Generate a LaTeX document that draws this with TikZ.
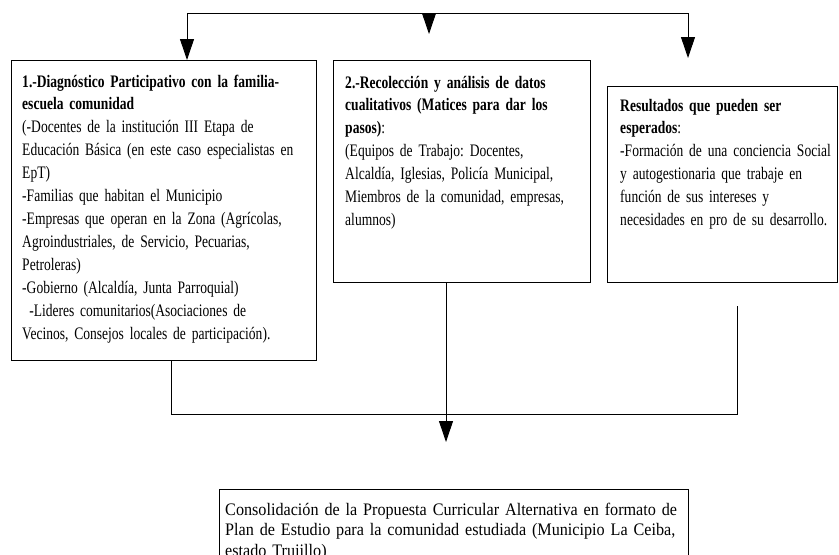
\documentclass[tikz,border=0pt]{standalone}
\usepackage{fontspec}
\setmainfont{Liberation Serif}
\newfontfamily\cajafont{Liberation Serif}[FakeStretch=0.77]
\newfontfamily\finalfont{Liberation Serif}[FakeStretch=0.92]
\usetikzlibrary{arrows.meta}
\frenchspacing

\tikzset{
  caja/.style={draw, line width=1pt, anchor=north west, inner sep=0pt},
  texto/.style={anchor=base west, inner sep=0pt, align=left,
    font=\cajafont\fontsize{15}{19.6}\selectfont},
  textofinal/.style={anchor=base west, inner sep=0pt, align=left,
    font=\finalfont\fontsize{15}{17.9}\selectfont},
  flecha/.style={-{Triangle[length=0.63cm,width=0.42cm]}, line width=0.8pt},
}

\begin{document}
\begin{tikzpicture}[x=0.03cm,y=-0.03cm]
\useasboundingbox (0,0) rectangle (839,554);

% cajas
\node[caja,minimum width=9.15cm,minimum height=9.0cm] (diag)  at (11,60)  {};
\node[caja,minimum width=7.71cm,minimum height=6.66cm] (recol) at (333,60) {};
\node[caja,minimum width=6.9cm, minimum height=5.88cm] (result) at (607,86) {};
\node[caja,minimum width=14.07cm,minimum height=3.6cm] (consol) at (219,489) {};

% textos
\node[texto,text width=8.9cm] (t_diag) at (22,87) {%
  \textbf{1.-Diagnóstico Participativo con la familia-}\\
  \textbf{escuela comunidad}\\
  (-Docentes de la institución III Etapa de\\
  Educación Básica (en este caso especialistas en\\
  EpT)\\
  -Familias que habitan el Municipio\\
  -Empresas que operan en la Zona (Agrícolas,\\
  Agroindustriales, de Servicio, Pecuarias,\\
  Petroleras)\\
  -Gobierno (Alcaldía, Junta Parroquial)\\
  \hspace*{0.4em}-Lideres comunitarios(Asociaciones de\\
  Vecinos, Consejos locales de participación).};
\node[texto,text width=7.4cm] (t_recol) at (345,88) {%
  \textbf{2.-Recolección y análisis de datos}\\
  \textbf{cualitativos (Matices para dar los}\\
  \textbf{pasos)}:\\
  (Equipos de Trabajo: Docentes,\\
  Alcaldía, Iglesias, Policía Municipal,\\
  Miembros de la comunidad, empresas,\\
  alumnos)};
\node[texto,text width=6.6cm] (t_result) at (620,111) {%
  \textbf{Resultados que pueden ser}\\
  \textbf{esperados}:\\
  -Formación de una conciencia Social\\
  y autogestionaria que trabaje en\\
  función de sus intereses y\\
  necesidades en pro de su desarrollo.};
\node[textofinal,text width=14.5cm] (t_consol) at (225,515) {%
  Consolidación de la Propuesta Curricular Alternativa en formato de\\
  Plan de Estudio para la comunidad estudiada (Municipio La Ceiba,\\
  estado Trujillo)};

% flechas de arriba
\coordinate (izq) at (187,13);
\coordinate (der) at (688,13);
\coordinate (medio) at (429,13);
\coordinate (p_medio) at (429,34);
\coordinate (p_der) at (688,58);
\draw[flecha] (der) -- (izq) -- (izq |- diag.north);
\draw[flecha] (der) -- (p_der);
\draw[flecha] (medio) -- (p_medio);

% flechas de abajo
\coordinate (a_izq) at (171,414);
\coordinate (a_der) at (737,414);
\coordinate (c_der) at (737,306);
\draw[line width=0.8pt] (diag.south -| a_izq) -- (a_izq) -- (a_der) -- (c_der);
\draw[flecha] (recol.south -| 446,0) -- (446,442);
\end{tikzpicture}
\end{document}
